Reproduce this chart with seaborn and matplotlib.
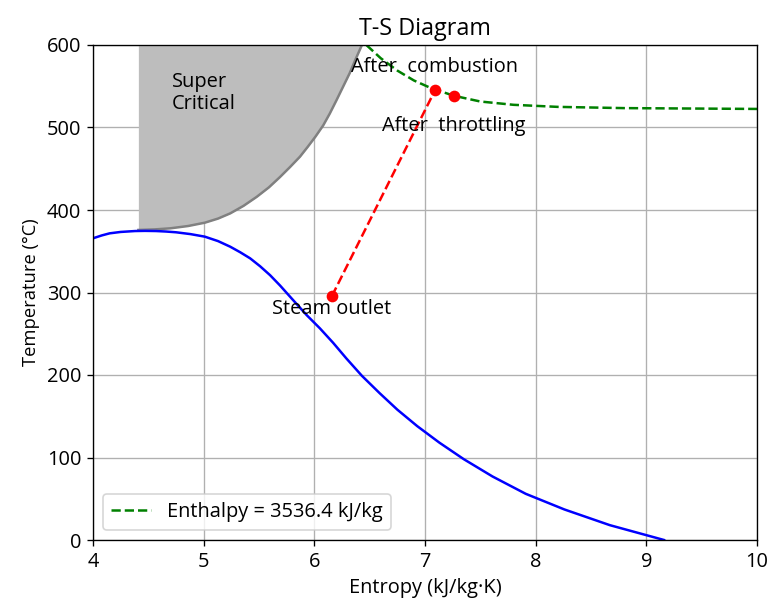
import numpy as np
import pandas as pd
import matplotlib
matplotlib.use("Agg")
import matplotlib.pyplot as plt
import seaborn as sns

# Saturation dome of water (entropy kJ/kg·K vs temperature °C)
sat_s = [4.00, 4.08, 4.15, 4.25, 4.38, 4.47, 4.57, 4.66, 4.75, 4.88, 5.01, 5.13, 5.24,
         5.33, 5.42, 5.51, 5.60, 5.69, 5.78, 5.93, 6.05, 6.17, 6.29, 6.43, 6.59,
         6.75, 6.93, 7.13, 7.35, 7.61, 7.91, 8.26, 8.67, 9.16]
sat_T = [365.7, 369.2, 371.7, 373.4, 374.5, 374.7, 374.5, 373.9, 373.0, 370.8, 367.7,
         362.3, 355.5, 348.8, 341.4, 331.8, 321.0, 308.5, 295.0, 272.7, 256.6, 239,
         220, 199, 178, 158, 138, 118, 98, 77, 56, 37, 18, 0]

# Critical isobar bounding the supercritical region
crit_s = [4.41, 4.56, 4.70, 4.86, 5.01, 5.13, 5.24, 5.36, 5.48, 5.59, 5.69, 5.78,
          5.87, 5.94, 6.01, 6.08, 6.14, 6.20, 6.26, 6.32, 6.37, 6.43]
crit_T = [375.8, 376.5, 377.8, 380.6, 384.6, 389.6, 395.9, 405.0, 416, 427.5, 440,
          452.0, 464.6, 476.5, 488.9, 502.5, 517, 533, 549.5, 566.0, 581.8, 600]

# Constant-enthalpy line
enthalpy = 3536.4
h_s = [6.47, 6.60, 6.75, 6.90, 7.05, 7.26, 7.50, 7.80, 8.20, 8.80, 9.40, 10.00]
h_T = [600, 584, 569, 557, 548, 538.5, 531.5, 527.5, 525, 523.5, 523, 522.5]

# Process states
state_names = ["Steam outlet", "After  combustion", "After  throttling"]
state_s = [6.16, 7.09, 7.26]
state_T = [296, 545, 538]

x_ticks = [4, 5, 6, 7, 8, 9, 10]
y_ticks = [0, 100, 200, 300, 400, 500, 600]

plt.rcParams["font.family"] = ["Open Sans", "DejaVu Sans"]
fs = 12
fig = plt.figure(figsize=(770 / 120, 601 / 120), dpi=120)
ax = fig.add_axes([93 / 770, 61 / 601, 664 / 770, 495 / 601])

# Supercritical region
ax.fill_between(crit_s, crit_T, 600, color="#bdbdbd", linewidth=0)
sns.lineplot(x=crit_s, y=crit_T, ax=ax, color="gray", linewidth=1.5,
             estimator=None, sort=False)

# Saturation curve
sns.lineplot(x=sat_s, y=sat_T, ax=ax, color="blue", linewidth=1.5,
             estimator=None, sort=False)

# Enthalpy line
sns.lineplot(x=h_s, y=h_T, ax=ax, color="green", linewidth=1.5,
             linestyle="--", estimator=None, sort=False,
             label=f"Enthalpy = {enthalpy} kJ/kg")

# Expansion path from steam outlet to after combustion
sns.lineplot(x=state_s[:2], y=state_T[:2], ax=ax, color="red", linewidth=1.5,
             linestyle="--", estimator=None, sort=False)
ax.plot(state_s, state_T, "o", color="red", markersize=6, zorder=5)

ax.text(state_s[0], state_T[0] - 4, state_names[0], ha="center", va="top", fontsize=fs)
ax.text(state_s[1], state_T[1] + 16, state_names[1], ha="center", va="bottom", fontsize=fs)
ax.text(state_s[2], state_T[2] - 24, state_names[2], ha="center", va="top", fontsize=fs)
ax.text(4.71, 542, "Super\nCritical", ha="left", va="center", fontsize=fs,
        linespacing=1.15)

ax.set_xlim(4, 10)
ax.set_ylim(0, 600)
ax.set_xticks(x_ticks)
ax.set_yticks(y_ticks)
ax.grid(True, color="#b0b0b0", linewidth=0.8)
ax.set_axisbelow(True)
ax.set_xlabel("Entropy (kJ/kg·K)", fontsize=fs)
ax.set_ylabel("Temperature (°C)", fontsize=11)
ax.set_title("T-S Diagram", fontsize=14)
ax.tick_params(labelsize=fs)
ax.legend(loc="lower left", fontsize=fs)

fig.savefig("out.png", dpi=120)
